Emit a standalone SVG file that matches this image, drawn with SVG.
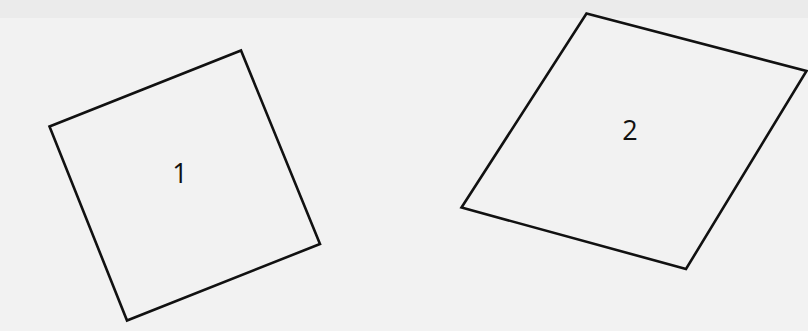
<svg xmlns="http://www.w3.org/2000/svg" width="808" height="331" viewBox="0 0 808 331">
<style>
.shape{fill:none;stroke:#111;stroke-width:2.6;stroke-linejoin:miter}
.lbl{font-family:"Open Sans","Liberation Sans",sans-serif;font-size:27px;fill:#111;text-anchor:middle}
</style>
<rect x="0" y="0" width="808" height="331" fill="#f2f2f2"/>
<rect x="0" y="0" width="808" height="18" fill="#ebebeb"/>
<g id="node1">
<polygon class="shape" points="49.5,126.5 241,50.5 320,244 127,320.5"/>
<text class="lbl" x="180" y="183">1</text>
</g>
<g id="node2">
<polygon class="shape" points="586.5,13.5 806.5,71 686,269 461.5,207.5"/>
<text class="lbl" x="630" y="140">2</text>
</g>
<g id="connectors"></g>
</svg>
